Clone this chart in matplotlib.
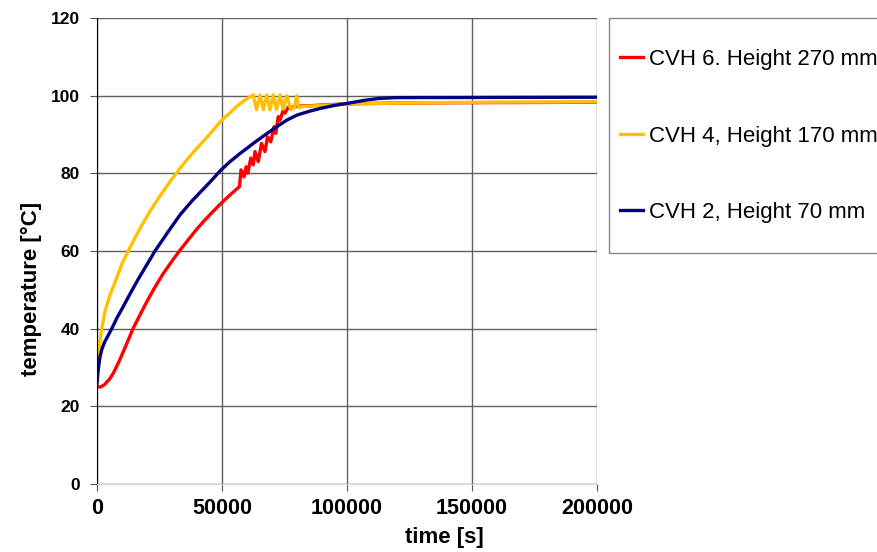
import matplotlib
matplotlib.use('Agg')
import matplotlib.pyplot as plt
from matplotlib.patches import Rectangle

plt.rcParams['font.family'] = ['Liberation Sans', 'DejaVu Sans']

# CVH 6, Height 270 mm
t_red = [0, 1500, 3000, 5000, 6500, 9000, 12000, 14400, 17000, 19900, 23000, 26500,
         30000, 33200, 37000, 40000, 43200, 46000, 49200, 53000, 57000,
         57600, 58800, 59700, 60300, 61500, 62500, 63200, 64500, 65800, 67200, 68200,
         69500, 70800, 71500, 72500, 73200, 74500, 75200, 76500, 78000, 80000, 85000,
         90000, 100000, 120000, 150000, 200000]
T_red = [25, 25, 25.6, 27, 28.5, 31.8, 36.3, 40, 43.3, 46.9, 50.5, 54.2,
         57.4, 60.2, 63.3, 65.7, 68, 69.9, 72, 74.3, 76.6,
         80.9, 79.1, 81.7, 80, 83.9, 82.2, 85.6, 83, 87.7, 85.6, 89.4,
         88.1, 92, 90.3, 94.6, 93.7, 96.3, 95.5, 97, 97, 97.3, 97.4,
         97.6, 97.9, 98.1, 98.2, 98.3]

# CVH 4, Height 170 mm
t_yel = [0, 500, 1000, 1900, 3200, 5000, 6500, 8000, 10000, 12500, 15000, 17900,
         21000, 25000, 29000, 33200, 37000, 40000, 45000, 49300, 53000, 56000, 59000,
         62500, 63800, 65200, 66500, 67900, 69200, 70500, 71800, 73200, 74500, 75900,
         77500, 78800, 79900, 80500, 82000, 90000, 100000, 120000, 150000, 200000]
T_yel = [29, 33, 36, 40, 44.5, 48.3, 50.8, 53.3, 56.8, 60, 63.2, 66.6,
         70, 74, 77.7, 81.3, 84.3, 86.5, 90, 93.3, 95.5, 97.3, 98.8,
         100.2, 96.4, 100.2, 96.4, 100.2, 96.4, 100.2, 96.4, 100.2, 96.5, 100,
         96.5, 96.8, 100, 97, 97.2, 97.5, 97.8, 98.1, 98.3, 98.4]

# CVH 2, Height 70 mm
t_blue = [0, 500, 1200, 2000, 3000, 4500, 5900, 8000, 10500, 13000, 16000, 19500,
          23200, 28500, 33200, 38000, 42000, 46000, 49200, 53000, 57000, 62500, 67000,
          71000, 75900, 80000, 85000, 89200, 95000, 100000, 107000, 113000, 120000, 200000]
T_blue = [26, 29.5, 32.8, 34.8, 36.5, 38.3, 40, 42.8, 45.7, 48.7, 52.2, 56,
          60, 65, 69.3, 72.9, 75.6, 78.3, 80.6, 82.9, 85, 87.7, 89.8,
          91.6, 93.7, 95, 96, 96.7, 97.5, 98, 98.8, 99.3, 99.5, 99.6]

fig = plt.figure(figsize=(8.77, 5.52), dpi=100)
ax = fig.add_axes([97/877, 1 - 484/552, 500/877, 466/552])

kw = dict(lw=2.4, solid_joinstyle='round')
ax.plot(t_red, T_red, color='#FF0000', label='CVH 6. Height 270 mm', **kw)
ax.plot(t_yel, T_yel, color='#FFC000', label='CVH 4, Height 170 mm', **kw)
ax.plot(t_blue, T_blue, color='#000080', label='CVH 2, Height 70 mm', **kw)

ax.set_xlim(0, 200000)
ax.set_ylim(0, 120)
ax.set_xticks([0, 50000, 100000, 150000, 200000])
ax.set_yticks(range(0, 121, 20))
ax.grid(True, color='#606060', lw=1)
ax.set_axisbelow(True)
for s in ['top', 'right']:
    ax.spines[s].set_visible(False)
ax.spines['left'].set_color('black')
ax.spines['bottom'].set_color('#d8d8d8')
ax.tick_params(direction='out', length=5, color='#555555')
ax.tick_params(axis='x', labelsize=15.5, pad=5)
ax.tick_params(axis='y', labelsize=12.5, pad=7.5)
for lab in ax.get_xticklabels() + ax.get_yticklabels():
    lab.set_fontweight('bold')

ax.set_xlabel('time [s]', fontsize=16, fontweight='bold')
ax.xaxis.set_label_coords((444 - 97) / 500, -(527 - 484) / 466)
ax.set_ylabel('temperature [°C]', fontsize=16, fontweight='bold')
ax.yaxis.set_label_coords(-(97 - 42) / 500, (484 - 289) / 466)

# legend box (runs past the right edge)
fig.patches.append(Rectangle((609/877, 1 - 253/552), 0.4, 235/552, transform=fig.transFigure,
                             fill=False, edgecolor='#888888', lw=1, clip_on=False))
fig.legend(loc='upper left', bbox_to_anchor=(620/877, 1 - 49/552), frameon=False,
           fontsize=16, handlelength=1.05, handletextpad=0.25, labelspacing=2.5,
           borderpad=0, borderaxespad=0)

fig.savefig('out.png', dpi=100)
